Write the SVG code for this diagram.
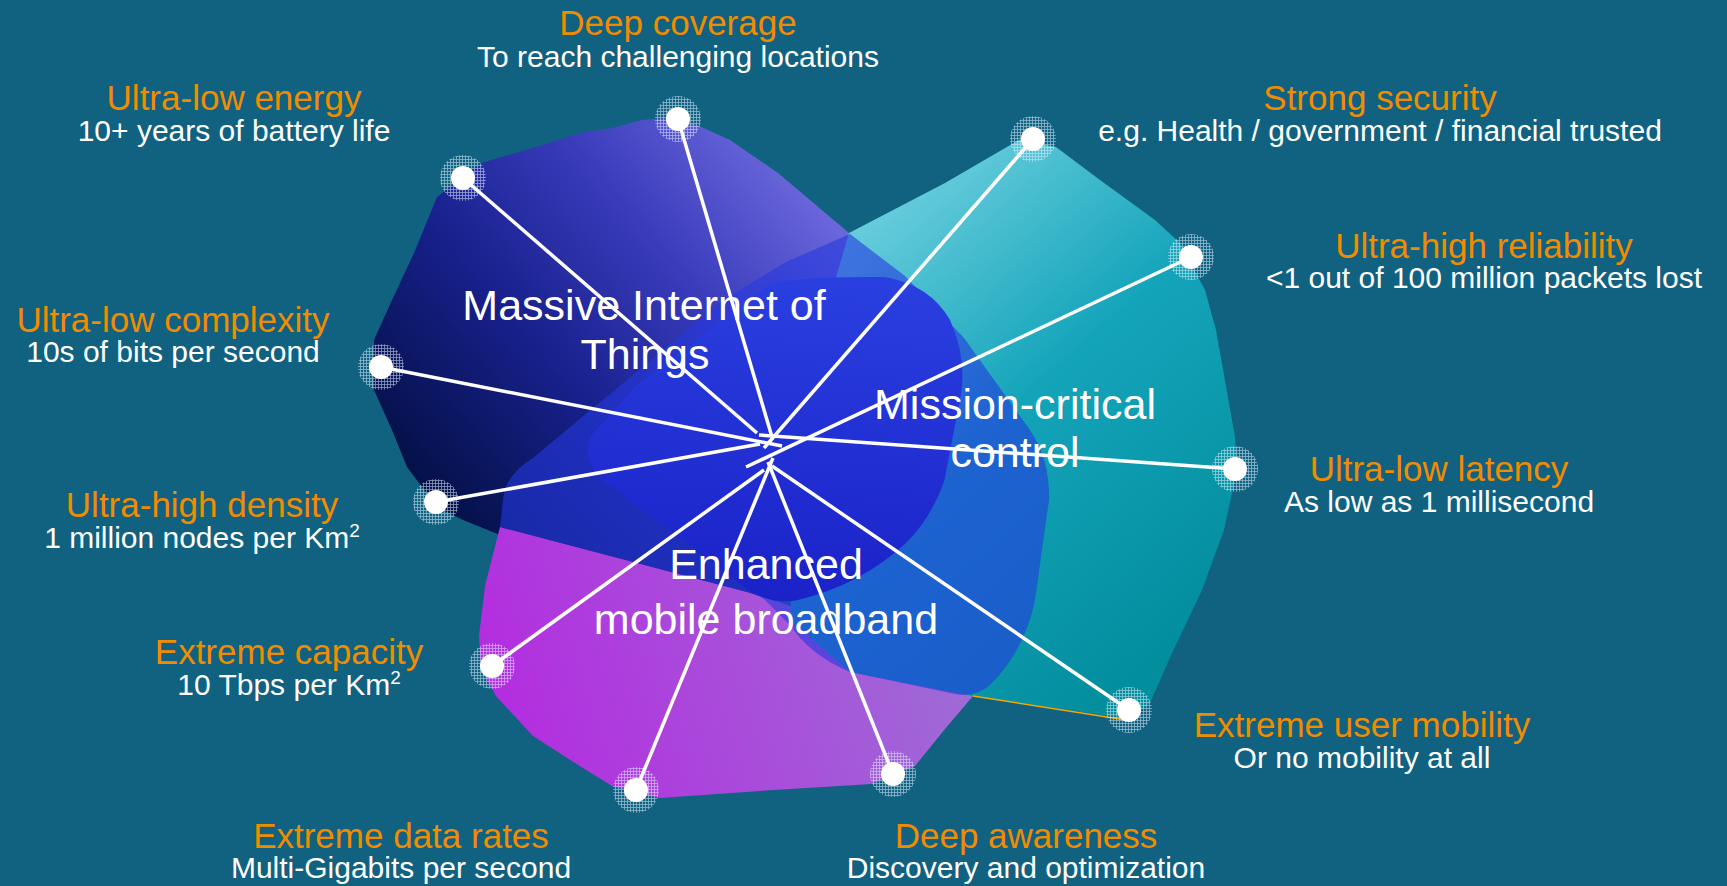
<svg xmlns="http://www.w3.org/2000/svg" width="1727" height="886" viewBox="0 0 1727 886">
<defs>
<style>
.t{font-family:"Liberation Sans",Arial,sans-serif;text-anchor:middle}
.o{fill:#f08c00;font-size:35px}
.w{fill:#ffffff;font-size:30px}
.c{fill:#ffffff;font-size:43px}
.halo{fill:url(#mesh);opacity:0.8}
.dot{fill:#ffffff}
.ln{stroke:#ffffff;stroke-width:3.5;stroke-linecap:butt;fill:none}
</style>
<pattern id="mesh" width="3" height="3" patternUnits="userSpaceOnUse">
<path d="M0 0.5H3M0.5 0V3" stroke="#e6f2ff" stroke-width="0.8" opacity="0.75"/>
</pattern>
<linearGradient id="gIot" gradientUnits="userSpaceOnUse" x1="390" y1="480" x2="780" y2="150">
<stop offset="0" stop-color="#020f40"/>
<stop offset="0.4" stop-color="#18218e"/>
<stop offset="0.7" stop-color="#3a3cbc"/>
<stop offset="1" stop-color="#6c68dc"/>
</linearGradient>
<linearGradient id="gMc" gradientUnits="userSpaceOnUse" x1="860" y1="230" x2="1200" y2="620">
<stop offset="0" stop-color="#66ccdc"/>
<stop offset="0.45" stop-color="#14a4ba"/>
<stop offset="1" stop-color="#038e9e"/>
</linearGradient>
<linearGradient id="gEm" gradientUnits="userSpaceOnUse" x1="500" y1="790" x2="960" y2="640">
<stop offset="0" stop-color="#b42ae0"/>
<stop offset="1" stop-color="#9e6cd6"/>
</linearGradient>
<linearGradient id="gBlob" gradientUnits="userSpaceOnUse" x1="800" y1="280" x2="780" y2="600">
<stop offset="0" stop-color="#2a3fe0"/>
<stop offset="1" stop-color="#1a22c8"/>
</linearGradient>
</defs>
<rect width="1727" height="886" fill="#116181"/>

<g id="areas">
<path id="miot-area" d="M392,300 L414,253 L437,197 L481,163 L536,147 L580,133 L612,128 L642,120 L667,118 L697,125 L730,140 L778,173 L849,233 L900,300 L920,420 L850,560 L747,600 L500,535 L463,520 L437,507 L407,467 L392,430 L374,390 L374,340 Z" fill="url(#gIot)"/>
<path id="embb-area" d="M500,527 L747,592 L850,625 L950,640 L1000,660 L973,696 L945,729 L915,766 L871,784 L760,791 L660,798 L612,786 L575,763 L533,736 L496,696 L481,669 L479,636 L485,586 Z" fill="url(#gEm)"/>
<path id="mc-area" d="M849,233 L945,183 L1019,140 L1056,147 L1100,180 L1155,220 L1180,243 L1205,290 L1216,330 L1235,437 L1237,470 L1224,530 L1202,590 L1172,653 L1150,703 L1130,719 L973,696 L850,672 L790,620 L800,400 Z" fill="url(#gMc)"/>
<path d="M973,696 L1126,720" stroke="#f2aa00" stroke-width="1.6" fill="none"/>
<path id="overlap" d="M850,234 L905,276 L964,338 L1030,430 Q1050,460 1049,500 L1035,600 Q1025,650 990,685 Q975,698 955,694 L850,672 Q810,655 790,625 L765,600 Q757,594 747,592 L500,527 L503,500 Q505,475 533,458 L723,300 L786,262 Z" fill="#2438e0" fill-opacity="0.6"/>
<path id="core" d="M636,386 L767,286 Q790,276 885,277 Q930,285 950,320 Q968,360 960,400 L944,482 Q930,520 905,544 Q860,585 798,600 Q770,605 747,589 L600,478 Q580,458 592,435 Z" fill="url(#gBlob)"/>
</g>

<g id="connectors">
<line class="ln" x1="678" y1="119" x2="772" y2="437"/>
<line class="ln" x1="463" y1="178" x2="757" y2="433"/>
<line class="ln" x1="1033" y1="139" x2="764" y2="448"/>
<line class="ln" x1="1191" y1="257" x2="746" y2="467"/>
<line class="ln" x1="381" y1="367" x2="782" y2="446"/>
<line class="ln" x1="1235" y1="469" x2="759" y2="435"/>
<line class="ln" x1="436" y1="502" x2="760" y2="444"/>
<line class="ln" x1="492" y1="666" x2="764" y2="470"/>
<line class="ln" x1="1129" y1="710" x2="772" y2="466"/>
<line class="ln" x1="636" y1="790" x2="773" y2="458"/>
<line class="ln" x1="893" y1="774" x2="768" y2="462"/>
</g>

<g id="domain-miot"><text class="t c" x="644" y="320">Massive Internet of</text><text class="t c" x="645" y="369">Things</text></g>
<g id="domain-mc"><text class="t c" x="1015" y="419">Mission-critical</text><text class="t c" x="1015" y="467">control</text></g>
<g id="domain-embb"><text class="t c" x="766" y="579">Enhanced</text><text class="t c" x="766" y="634">mobile broadband</text></g>

<g id="deep-coverage"><circle class="halo" cx="678" cy="119" r="23"/><circle class="dot" cx="678" cy="119" r="12"/><text class="t o" x="678" y="35">Deep coverage</text><text class="t w" x="678" y="67">To reach challenging locations</text></g>
<g id="ultra-low-energy"><circle class="halo" cx="463" cy="178" r="23"/><circle class="dot" cx="463" cy="178" r="12"/><text class="t o" x="234" y="110">Ultra-low energy</text><text class="t w" x="234" y="141">10+ years of battery life</text></g>
<g id="strong-security"><circle class="halo" cx="1033" cy="139" r="23"/><circle class="dot" cx="1033" cy="139" r="12"/><text class="t o" x="1380" y="110">Strong security</text><text class="t w" x="1380" y="141">e.g. Health / government / financial trusted</text></g>
<g id="ultra-high-reliability"><circle class="halo" cx="1191" cy="257" r="23"/><circle class="dot" cx="1191" cy="257" r="12"/><text class="t o" x="1484" y="258">Ultra-high reliability</text><text class="t w" x="1484" y="288">&lt;1 out of 100 million packets lost</text></g>
<g id="ultra-low-complexity"><circle class="halo" cx="381" cy="367" r="23"/><circle class="dot" cx="381" cy="367" r="12"/><text class="t o" x="173" y="332">Ultra-low complexity</text><text class="t w" x="173" y="362">10s of bits per second</text></g>
<g id="ultra-low-latency"><circle class="halo" cx="1235" cy="469" r="23"/><circle class="dot" cx="1235" cy="469" r="12"/><text class="t o" x="1439" y="481">Ultra-low latency</text><text class="t w" x="1439" y="512">As low as 1 millisecond</text></g>
<g id="ultra-high-density"><circle class="halo" cx="436" cy="502" r="23"/><circle class="dot" cx="436" cy="502" r="12"/><text class="t o" x="202" y="517">Ultra-high density</text><text class="t w" x="202" y="548">1 million nodes per Km<tspan font-size="19" dy="-11">2</tspan></text></g>
<g id="extreme-capacity"><circle class="halo" cx="492" cy="666" r="23"/><circle class="dot" cx="492" cy="666" r="12"/><text class="t o" x="289" y="664">Extreme capacity</text><text class="t w" x="289" y="695">10 Tbps per Km<tspan font-size="19" dy="-11">2</tspan></text></g>
<g id="extreme-user-mobility"><circle class="halo" cx="1129" cy="710" r="23"/><circle class="dot" cx="1129" cy="710" r="12"/><text class="t o" x="1362" y="737">Extreme user mobility</text><text class="t w" x="1362" y="768">Or no mobility at all</text></g>
<g id="extreme-data-rates"><circle class="halo" cx="636" cy="790" r="23"/><circle class="dot" cx="636" cy="790" r="12"/><text class="t o" x="401" y="848">Extreme data rates</text><text class="t w" x="401" y="878">Multi-Gigabits per second</text></g>
<g id="deep-awareness"><circle class="halo" cx="893" cy="774" r="23"/><circle class="dot" cx="893" cy="774" r="12"/><text class="t o" x="1026" y="848">Deep awareness</text><text class="t w" x="1026" y="878">Discovery and optimization</text></g>
</svg>
